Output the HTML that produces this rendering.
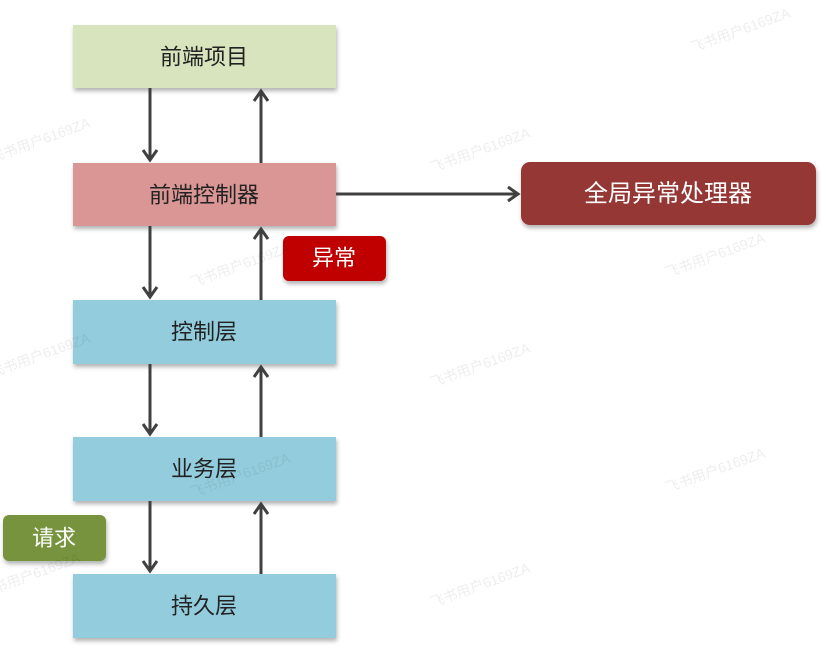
<!DOCTYPE html>
<html><head><meta charset="utf-8"><style>
html,body{margin:0;padding:0;background:#fff;width:826px;height:654px;overflow:hidden}
svg{display:block}
text{font-family:"Liberation Sans","Noto Sans CJK SC",sans-serif;text-anchor:middle;dominant-baseline:central}
</style></head><body>
<svg width="826" height="654" viewBox="0 0 826 654">
<defs>
<filter id="sh" x="-10%" y="-20%" width="120%" height="150%"><feDropShadow dx="1" dy="3" stdDeviation="2" flood-color="#000" flood-opacity="0.3"/></filter>
</defs>
<g filter="url(#sh)">
<rect x="73" y="25" width="263" height="63" fill="#d7e4bd"/>
<rect x="73" y="163" width="263" height="63" fill="#d99694"/>
<rect x="73" y="300" width="263" height="64" fill="#93cddd"/>
<rect x="73" y="437" width="263" height="64" fill="#93cddd"/>
<rect x="73" y="574" width="263" height="64" fill="#93cddd"/>
<rect x="521" y="162" width="295" height="63" rx="9" fill="#953735"/>
<rect x="283" y="236" width="103" height="45" rx="6" fill="#c00000"/>
<rect x="3" y="515" width="103" height="46" rx="6" fill="#77933c"/>
</g>
<g font-size="22" fill="#222">
<text x="204" y="57">前端项目</text>
<text x="204" y="195">前端控制器</text>
<text x="204" y="332">控制层</text>
<text x="204" y="469">业务层</text>
<text x="204" y="606">持久层</text>
</g>
<text x="668" y="194" font-size="24" fill="#fff">全局异常处理器</text>
<text x="334" y="258" font-size="22" fill="#fff">异常</text>
<text x="54" y="538" font-size="22" fill="#fff">请求</text>
<g stroke="#404040" stroke-width="3" fill="none">
<line x1="150" y1="88" x2="150" y2="160"/><polyline points="143,150 150,160 157,150"/>
<line x1="261" y1="163" x2="261" y2="91"/><polyline points="254,101 261,91 268,101"/>
<line x1="150" y1="226" x2="150" y2="297"/><polyline points="143,287 150,297 157,287"/>
<line x1="261" y1="300" x2="261" y2="229"/><polyline points="254,239 261,229 268,239"/>
<line x1="150" y1="364" x2="150" y2="434"/><polyline points="143,424 150,434 157,424"/>
<line x1="261" y1="437" x2="261" y2="367"/><polyline points="254,377 261,367 268,377"/>
<line x1="150" y1="501" x2="150" y2="571"/><polyline points="143,561 150,571 157,561"/>
<line x1="261" y1="574" x2="261" y2="504"/><polyline points="254,514 261,504 268,514"/>
<line x1="336" y1="194" x2="518" y2="194"/><polyline points="508,187 518,194 508,201"/>
</g>
<g font-size="14" fill="#000" fill-opacity="0.07">
<text x="40" y="140" transform="rotate(-20 40 140)">飞书用户6169ZA</text>
<text x="480" y="150" transform="rotate(-20 480 150)">飞书用户6169ZA</text>
<text x="240" y="265" transform="rotate(-20 240 265)">飞书用户6169ZA</text>
<text x="715" y="255" transform="rotate(-20 715 255)">飞书用户6169ZA</text>
<text x="480" y="365" transform="rotate(-20 480 365)">飞书用户6169ZA</text>
<text x="40" y="355" transform="rotate(-20 40 355)">飞书用户6169ZA</text>
<text x="240" y="475" transform="rotate(-20 240 475)">飞书用户6169ZA</text>
<text x="715" y="470" transform="rotate(-20 715 470)">飞书用户6169ZA</text>
<text x="480" y="585" transform="rotate(-20 480 585)">飞书用户6169ZA</text>
<text x="30" y="575" transform="rotate(-20 30 575)">飞书用户6169ZA</text>
<text x="740" y="30" transform="rotate(-20 740 30)">飞书用户6169ZA</text>
</g>
</svg>
</body></html>
